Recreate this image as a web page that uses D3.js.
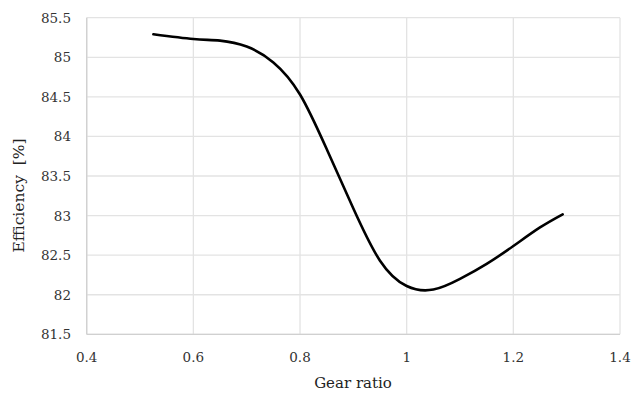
<!DOCTYPE html>
<html><head><meta charset="utf-8">
<script src="https://cdn.jsdelivr.net/npm/d3@7"></script>
<style>body{margin:0;background:#fff}</style>
</head><body>
<svg id="c" width="631" height="396"></svg>
<script>
const gearRatio = [0.525, 0.6, 0.65, 0.7, 0.75, 0.8, 0.85, 0.9, 0.95, 1.0, 1.05, 1.1, 1.15, 1.2, 1.25, 1.2925];
const efficiency = [85.29, 85.23, 85.21, 85.135, 84.935, 84.53, 83.84, 83.09, 82.43, 82.11, 82.065, 82.2, 82.39, 82.615, 82.85, 83.016];
const xTicks = [0.4, 0.6, 0.8, 1.0, 1.2, 1.4];
const yTicks = [81.5, 82, 82.5, 83, 83.5, 84, 84.5, 85, 85.5];
const xTitle = "Gear ratio";
const yTitle = "Efficiency  [%]";

const svg = d3.select("#c");
const L = 86.7, R = 620, T = 17.7, B = 334.3;
const x = d3.scaleLinear().domain([0.4, 1.4]).range([L, R]);
const y = d3.scaleLinear().domain([81.5, 85.5]).range([B, T]);
const font = "DejaVu Serif, Liberation Serif, serif";

svg.append("g").selectAll("line").data(yTicks).join("line")
  .attr("x1", L).attr("x2", R).attr("y1", d => y(d)).attr("y2", d => y(d))
  .attr("stroke", "#e3e3e3").attr("stroke-width", 1.3);
svg.append("g").selectAll("line").data(xTicks).join("line")
  .attr("y1", T).attr("y2", B).attr("x1", d => x(d)).attr("x2", d => x(d))
  .attr("stroke", "#e3e3e3").attr("stroke-width", 1.3);
svg.append("line").attr("x1", L).attr("x2", L).attr("y1", T).attr("y2", B)
  .attr("stroke", "#d0d0d0").attr("stroke-width", 1.3);
svg.append("line").attr("x1", L).attr("x2", R).attr("y1", B).attr("y2", B)
  .attr("stroke", "#d0d0d0").attr("stroke-width", 1.3);

const fmt = d => d3.format("")(d);
svg.append("g").selectAll("text").data(yTicks).join("text")
  .attr("x", 71).attr("y", d => y(d) + 5)
  .attr("text-anchor", "end").style("font-family", font).attr("font-size", 13.5)
  .attr("fill", "#333").text(d => fmt(d));
svg.append("g").selectAll("text").data(xTicks).join("text")
  .attr("x", d => x(d)).attr("y", 362)
  .attr("text-anchor", "middle").style("font-family", font).attr("font-size", 13.5)
  .attr("fill", "#333").text(d => fmt(d));

svg.append("text").attr("x", 353).attr("y", 388).attr("text-anchor", "middle")
  .style("font-family", font).attr("font-size", 15).attr("fill", "#222").text(xTitle);
svg.append("text").attr("transform", "translate(24,195.5) rotate(-90)").attr("text-anchor", "middle")
  .style("font-family", font).attr("font-size", 15.5).attr("fill", "#222")
  .style("white-space", "pre").text(yTitle);

const line = d3.line().x((d, i) => x(gearRatio[i])).y(d => y(d)).curve(d3.curveNatural);
svg.append("path").datum(efficiency).attr("d", line)
  .attr("fill", "none").attr("stroke", "#000").attr("stroke-width", 2.6).attr("stroke-linecap", "round");
</script>
</body></html>
